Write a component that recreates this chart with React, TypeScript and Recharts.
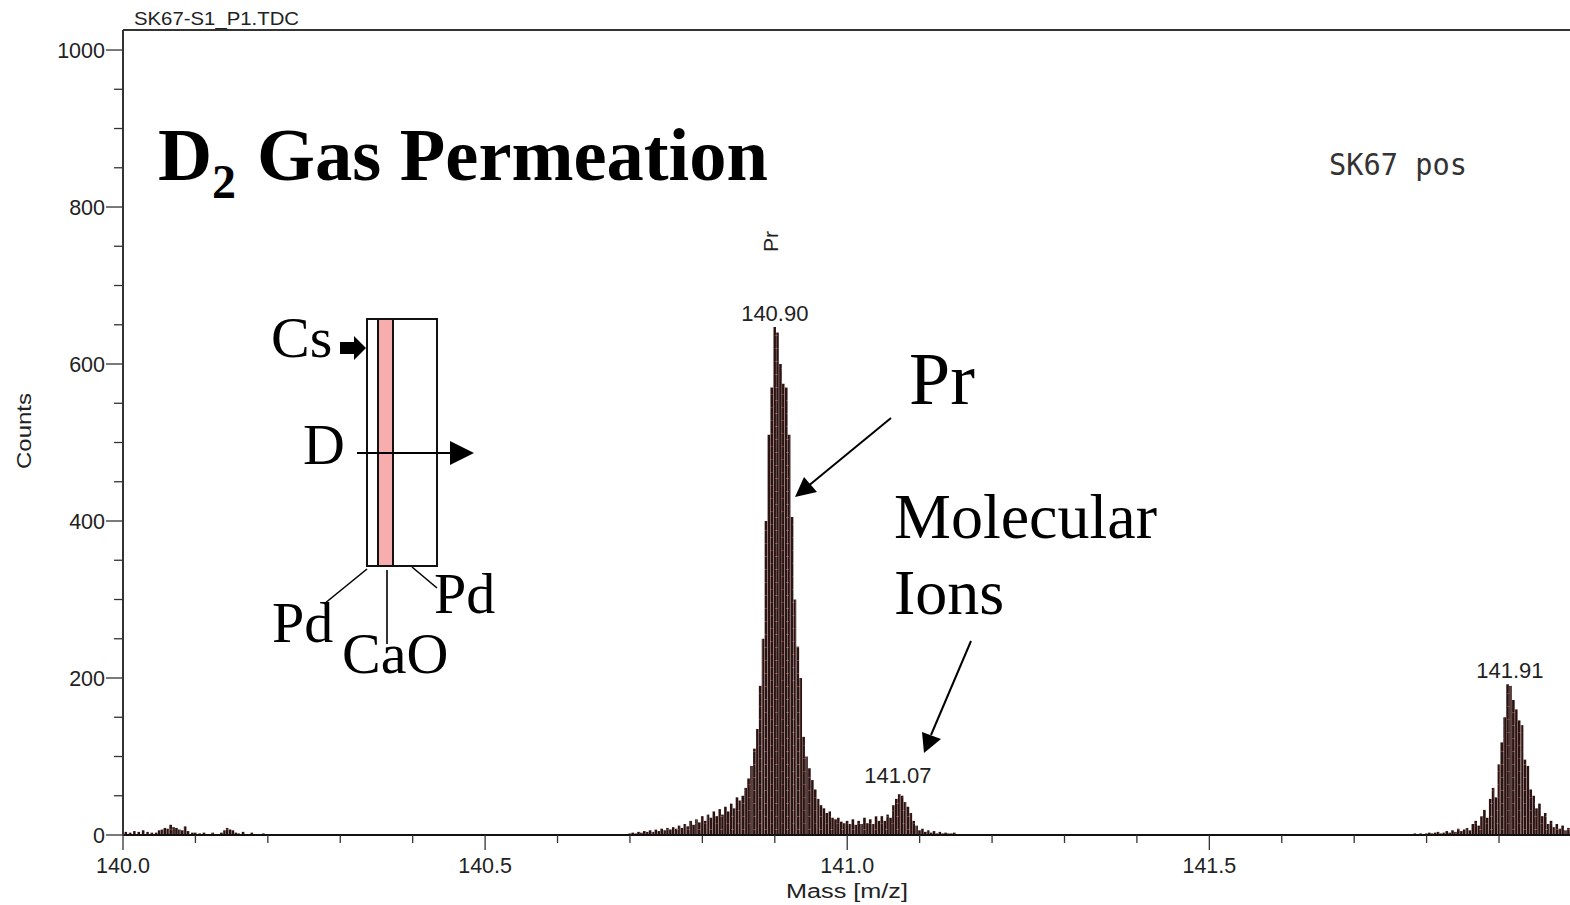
import React from "react";
import { ComposedChart, Bar, XAxis, YAxis, ReferenceDot, ReferenceLine } from "recharts";

// Low-mass noise near 140.0 - 140.25
const noiseMasses = [140.004,140.010,140.016,140.022,140.028,140.034,140.040,140.046,140.050,140.054,140.058,140.062,140.066,140.070,140.074,140.078,140.082,140.086,140.090,140.096,140.100,140.106,140.112,140.118,140.124,140.130,140.136,140.140,140.144,140.148,140.152,140.156,140.160,140.166,140.172,140.178,140.186,140.194,140.204,140.216];
const noiseCounts = [4,3,5,4,6,4,3,3,6,7,9,8,13,10,9,7,6,11,5,3,3,2,3,1,3,1,3,6,9,7,6,3,2,4,1,3,1,2,1,1];

// Main Pr peak and the 141.07 molecular-ion shoulder
const mainMasses = [140.700,140.704,140.708,140.712,140.716,140.720,140.724,140.728,140.732,140.736,140.740,140.744,140.748,140.752,140.756,140.760,140.764,140.768,140.772,140.776,140.780,140.784,140.788,140.792,140.796,140.800,140.804,140.808,140.812,140.816,140.820,140.824,140.828,140.832,140.836,140.840,140.844,140.848,140.852,140.856,140.860,140.864,140.868,140.872,140.876,140.880,140.884,140.888,140.892,140.896,140.900,140.904,140.908,140.912,140.916,140.920,140.924,140.928,140.932,140.936,140.940,140.944,140.948,140.952,140.956,140.960,140.964,140.968,140.972,140.976,140.980,140.984,140.988,140.992,140.996,141.000,141.004,141.008,141.012,141.016,141.020,141.024,141.028,141.032,141.036,141.040,141.044,141.048,141.052,141.056,141.060,141.064,141.068,141.072,141.076,141.080,141.084,141.088,141.092,141.096,141.100,141.104,141.108,141.112,141.116,141.120,141.124,141.128,141.132,141.136,141.140,141.144,141.148,141.152];
const mainCounts = [2,3,2,4,3,5,4,6,4,7,5,8,6,9,7,10,8,12,9,14,11,18,13,20,16,24,18,26,22,30,24,33,26,36,30,40,34,48,44,50,60,72,88,110,135,190,250,400,510,570,647,640,600,575,570,510,405,300,240,200,125,100,85,70,58,46,38,34,28,30,22,20,22,17,15,18,14,20,13,18,14,22,15,20,14,24,18,24,18,26,22,38,46,52,50,42,36,28,18,12,6,8,4,6,3,5,2,4,2,3,2,2,3,1];

// 141.91 peak, running off the right edge
const thirdMasses = [141.780,141.784,141.788,141.792,141.796,141.800,141.804,141.808,141.812,141.816,141.820,141.824,141.828,141.832,141.836,141.840,141.844,141.848,141.852,141.856,141.860,141.864,141.868,141.872,141.876,141.880,141.884,141.888,141.892,141.896,141.900,141.904,141.908,141.912,141.916,141.920,141.924,141.928,141.932,141.936,141.940,141.944,141.948,141.952,141.956,141.960,141.964,141.968,141.972,141.976,141.980,141.984,141.988,141.992,141.996];
const thirdCounts = [1,2,1,2,1,2,3,2,3,4,2,3,5,3,6,4,8,5,7,9,6,14,18,12,24,32,22,46,60,48,90,118,150,192,190,172,160,146,140,96,88,58,50,34,40,24,28,14,18,10,14,8,12,6,9];

const spectrum = [
  ...noiseMasses.map((mass, i) => ({ mass, counts: noiseCounts[i] })),
  ...mainMasses.map((mass, i) => ({ mass, counts: mainCounts[i] })),
  ...thirdMasses.map((mass, i) => ({ mass, counts: thirdCounts[i] })),
];

const xTicks = [140.0,140.1,140.2,140.3,140.4,140.5,140.6,140.7,140.8,140.9,141.0,141.1,141.2,141.3,141.4,141.5,141.6,141.7,141.8,141.9];
const xMajor = [140.0,140.5,141.0,141.5];
const yTicks = [0,50,100,150,200,250,300,350,400,450,500,550,600,650,700,750,800,850,900,950,1000];
const yMajor = [0,200,400,600,800,1000];

const peakMasses = [140.9, 141.07, 141.915];
const peakHeights = [647, 58, 192];
const peakLabels = ["140.90", "141.07", "141.91"];

const AXIS = "#333";
const SANS = "'Liberation Sans', Arial, sans-serif";
const SERIF = "'Liberation Serif', 'Times New Roman', serif";

function XTick(props: any) {
  const { x, y, payload } = props;
  const major = xMajor.some((m) => Math.abs(m - payload.value) < 1e-6);
  return (
    <g>
      <line x1={x} x2={x} y1={y} y2={y + (major ? 15 : 8)} stroke={AXIS} strokeWidth={1.3} />
      {major && (
        <text x={x} y={y + 38} textAnchor="middle" fontFamily={SANS} fontSize={21.5} fill="#222">
          {payload.value.toFixed(1)}
        </text>
      )}
    </g>
  );
}

function YTick(props: any) {
  const { x, y, payload } = props;
  const major = yMajor.includes(payload.value);
  return (
    <g>
      <line x1={x} x2={x - (major ? 17 : 9)} y1={y} y2={y} stroke={AXIS} strokeWidth={1.3} />
      {major && (
        <text x={x - 18} y={y + 8} textAnchor="end" fontFamily={SANS} fontSize={21.5} fill="#222">
          {payload.value}
        </text>
      )}
    </g>
  );
}

const tt = { fontFamily: SERIF, fill: "#000" } as const;

function Overlay() {
  return (
    <svg width={1570} height={905} style={{ position: "absolute", left: 0, top: 0, pointerEvents: "none" }}>
      <text x={134} y={25} fontFamily={SANS} fontSize={19} fill="#222" textLength={165} lengthAdjust="spacingAndGlyphs">SK67-S1_P1.TDC</text>
      <text x={31} y={431} transform="rotate(-90 31 431)" textAnchor="middle" fontFamily={SANS} fontSize={21} fill="#222" textLength={76} lengthAdjust="spacingAndGlyphs">Counts</text>
      <text x={786} y={898} fontFamily={SANS} fontSize={20} fill="#222" textLength={122} lengthAdjust="spacingAndGlyphs">Mass [m/z]</text>
      <text x={778} y={252} transform="rotate(-90 778 252)" fontFamily={SANS} fontSize={21} fill="#222">Pr</text>

      <text x={158} y={180} {...tt} fontSize={75} fontWeight="bold">D</text>
      <text x={212} y={198} {...tt} fontSize={48} fontWeight="bold">2</text>
      <text x={257} y={180} {...tt} fontSize={75} fontWeight="bold" textLength={511} lengthAdjust="spacingAndGlyphs">Gas Permeation</text>
      <text x={1329} y={175} fontFamily="'DejaVu Sans Mono', monospace" fontSize={31} fill="#333" textLength={138} lengthAdjust="spacingAndGlyphs">SK67 pos</text>

      <text x={909} y={404} {...tt} fontSize={74}>Pr</text>
      <text x={894} y={538} {...tt} fontSize={64}>Molecular</text>
      <text x={894} y={614} {...tt} fontSize={64}>Ions</text>
      <line x1={891} y1={418} x2={807} y2={487} stroke="#000" strokeWidth={2} />
      <polygon points="795,497 804,477 817,492" fill="#000" />
      <line x1={971} y1={641} x2={931} y2={735} stroke="#000" strokeWidth={2} />
      <polygon points="924,753 922,732 941,739" fill="#000" />

      {/* Cs / D / Pd / CaO layer sketch */}
      <rect x={367} y={319} width={70} height={247} fill="#fff" stroke="#111" strokeWidth={2} />
      <rect x={378} y={319} width={15} height={247} fill="#f7adad" stroke="#111" strokeWidth={2} />
      <text x={271} y={357} {...tt} fontSize={58}>Cs</text>
      <polygon points="340,342 354,342 354,336 366,348 354,360 354,354 340,354" fill="#000" />
      <text x={303} y={464} {...tt} fontSize={58}>D</text>
      <line x1={357} y1={453} x2={452} y2={453} stroke="#000" strokeWidth={2} />
      <polygon points="450,441 474,453 450,465" fill="#000" />
      <line x1={367} y1={569} x2={324} y2={604} stroke="#000" strokeWidth={1.6} />
      <line x1={387} y1={570} x2={387} y2={644} stroke="#000" strokeWidth={1.6} />
      <line x1={412} y1={567} x2={437} y2={588} stroke="#000" strokeWidth={1.6} />
      <text x={272} y={642} {...tt} fontSize={58}>Pd</text>
      <text x={434} y={613} {...tt} fontSize={58}>Pd</text>
      <text x={342} y={673} {...tt} fontSize={58}>CaO</text>
    </svg>
  );
}

export default function App() {
  return (
    <div style={{ position: "absolute", left: 0, top: 0, width: 1570, height: 905, background: "#fff", overflow: "hidden" }}>
      <svg width={0} height={0} style={{ position: "absolute" }}>
        <defs>
          <pattern id="ms-texture" width={11} height={13} patternUnits="userSpaceOnUse">
            <rect width={11} height={13} fill="#2a1311" />
            <rect x={3} width={1} height={13} fill="#5f3f3b" />
            <rect x={8} width={1} height={13} fill="#472925" />
            <rect x={0} y={4} width={3} height={1} fill="#6e2a26" />
            <rect x={5} y={10} width={3} height={1} fill="#7a3a34" />
          </pattern>
        </defs>
      </svg>
      <ComposedChart
        width={1570}
        height={905}
        data={spectrum}
        margin={{ top: 30, right: 0, bottom: 0, left: 0 }}
      >
        <XAxis
          dataKey="mass"
          type="number"
          domain={[140, 141.998]}
          ticks={xTicks}
          interval={0}
          height={70}
          tickSize={0}
          tickMargin={0}
          tick={XTick}
          allowDataOverflow
          axisLine={{ stroke: "#111", strokeWidth: 2 }}
          tickLine={false}
        />
        <YAxis
          type="number"
          domain={[0, 1025.5]}
          ticks={yTicks}
          interval={0}
          width={123}
          tickSize={0}
          tickMargin={0}
          tick={YTick}
          allowDataOverflow
          axisLine={{ stroke: "#333", strokeWidth: 2 }}
          tickLine={false}
        />
        <ReferenceLine y={1025.5} stroke="#333" strokeWidth={2} />
        <Bar dataKey="counts" fill="url(#ms-texture)" barSize={4} isAnimationActive={false} />
        {peakMasses.map((m, i) => (
          <ReferenceDot
            key={m}
            x={m}
            y={peakHeights[i]}
            r={0}
            label={{ value: peakLabels[i], position: "top", offset: 6, fontFamily: SANS, fontSize: 22, fill: "#222" }}
          />
        ))}
      </ComposedChart>
      <Overlay />
    </div>
  );
}
